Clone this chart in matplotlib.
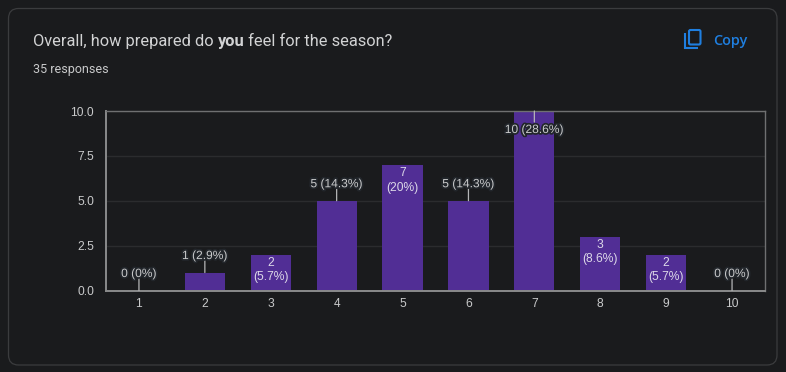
import matplotlib
matplotlib.use("Agg")
import matplotlib.pyplot as plt
import matplotlib.patheffects as pe
from matplotlib.patches import FancyBboxPatch
from matplotlib.path import Path
from matplotlib.patches import PathPatch

categories = ["1", "2", "3", "4", "5", "6", "7", "8", "9", "10"]
counts = [0, 1, 2, 5, 7, 5, 10, 3, 2, 0]
percents = ["0%", "2.9%", "5.7%", "14.3%", "20%", "14.3%", "28.6%", "8.6%", "5.7%", "0%"]
y_ticks = [0.0, 2.5, 5.0, 7.5, 10.0]
inside_labels = ["3", "5", "8", "9"]
title_parts = [("Overall, how prepared do ", "normal"), ("you", "bold"), (" feel for the season?", "normal")]
subtitle = "35 responses"
copy_label = "Copy"

W, H = 786, 372
BG = "#1a1b1d"
BAR = "#512e95"
TXT = "#c9cacb"
BLUE = "#1f7fe0"
PX = 72 / 100

fig = plt.figure(figsize=(W / 100, H / 100), dpi=100, facecolor=BG)

# pixel-space overlay
ov = fig.add_axes([0, 0, 1, 1], zorder=0)
ov.set_xlim(0, W)
ov.set_ylim(H, 0)
ov.axis("off")
ov.add_patch(FancyBboxPatch((8.5 + 10, 8.5 + 10), 768.5 - 20, 356.5 - 20,
                            boxstyle="round,pad=10,rounding_size=10",
                            fc=BG, ec="#3b3c3e", lw=0.9))

# title with bold run
x = 33
r = fig.canvas.get_renderer()
for s, w in title_parts:
    t = ov.text(x, 40, s, family="Roboto", fontweight=w, fontsize=16.4 * PX,
                color="#d2d3d4", ha="left", va="center_baseline")
    probe = ov.text(0, 0, s.replace(" ", "\u00a0"), family="Roboto", fontweight=w, fontsize=16.4 * PX)
    x += probe.get_window_extent(r).width
    probe.remove()
ov.text(33, 68.5, subtitle, family="Roboto", fontsize=12.5 * PX, color=TXT, ha="left", va="center_baseline")
ov.text(713, 39.5, copy_label, family="Open Sans", fontweight="semibold", fontsize=14.4 * PX, color=BLUE,
        ha="left", va="center_baseline")

# copy icon
ov.add_patch(FancyBboxPatch((689, 30), 11.5, 14.5, boxstyle="round,pad=0,rounding_size=1.5",
                            fc="none", ec=BLUE, lw=1.5))
ov.add_patch(PathPatch(Path([(685, 33), (685, 48), (698, 48)]), fc="none", ec=BLUE, lw=1.5))

# chart
L, R, T, B = 106, 765, 111, 290.5
ax = fig.add_axes([L / W, 1 - B / H, (R - L) / W, (B - T) / H], zorder=1)
ax.patch.set_alpha(0)
xs = list(range(1, len(categories) + 1))
ax.bar(xs, counts, width=0.61, color=BAR, zorder=2)
ax.set_xlim(0.5, 10.5)
ax.set_ylim(0, 10)
ax.set_xticks(xs, categories)
ax.set_yticks(y_ticks, [f"{v:.1f}" for v in y_ticks])
ax.tick_params(axis="both", length=0, labelsize=12 * PX, labelcolor=TXT, labelfontfamily="Liberation Sans")
ax.tick_params(axis="x", pad=5.5)
ax.tick_params(axis="y", pad=8.5)
ax.grid(axis="y", color="#2b2c2e", lw=1, zorder=1)
ax.set_axisbelow(True)
for side in ax.spines:
    ax.spines[side].set_color("#6f7071")
    ax.spines[side].set_linewidth(1)
ax.spines["bottom"].set_color("#8a8b8b")
ax.spines["bottom"].set_linewidth(1.4)
ax.spines["left"].set_color("#8a8b8b")
ax.spines["left"].set_linewidth(1.4)

halo = [pe.withStroke(linewidth=2.5, foreground="#22262b")]
top = max(counts)
for xv, c, p, cat in zip(xs, counts, percents, categories):
    if cat in inside_labels:
        ax.annotate(f"{c}\n({p})", (xv, c), xytext=(0, -2 * PX), textcoords="offset points",
                    ha="center", va="top", fontsize=12 * PX, family="Liberation Sans",
                    color="#dcd8e8", linespacing=1.3, zorder=4)
    else:
        lead = 12 if c < top else -11
        ax.annotate("", (xv, c), xytext=(0, lead * PX), textcoords="offset points",
                    arrowprops=dict(arrowstyle="-", color="#b5b6b7", lw=0.9, shrinkA=0, shrinkB=0),
                    annotation_clip=False, zorder=3)
        dy = 10.5 if c < top else -25
        ax.annotate(f"{c} ({p})", (xv, c), xytext=(0, dy * PX), textcoords="offset points",
                    ha="center", va="bottom", fontsize=12 * PX, family="Liberation Sans",
                    color="#c9cacb", path_effects=halo, zorder=4,
                    annotation_clip=False)

fig.savefig("out.png", dpi=100, facecolor=BG)
